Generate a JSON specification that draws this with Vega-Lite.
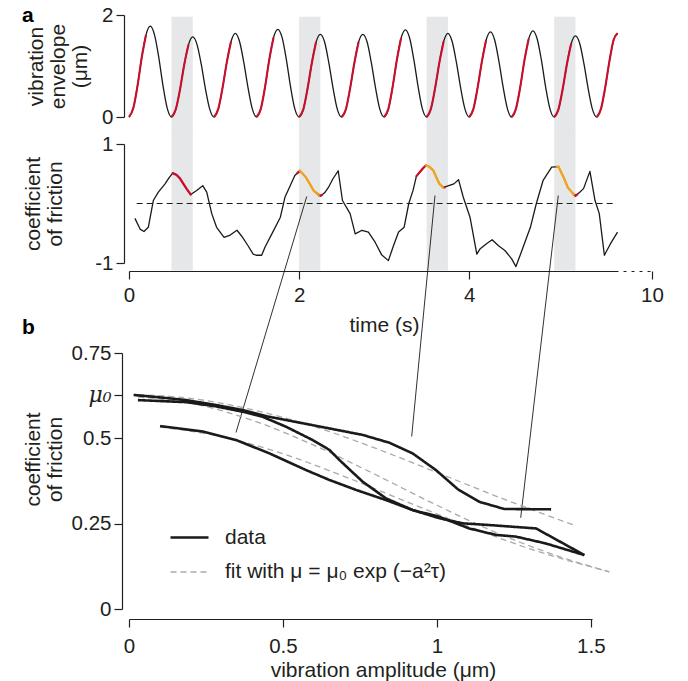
{
  "$schema": "https://vega.github.io/schema/vega-lite/v6.json",
  "background": "white",
  "padding": {"left": 22, "top": 5, "right": 5, "bottom": 5},
  "bounds": "flush",
  "spacing": 27,
  "resolve": {
    "scale": {"color": "independent", "strokeDash": "independent", "strokeWidth": "independent"},
    "legend": {"color": "independent", "strokeDash": "independent", "strokeWidth": "independent"}
  },
  "config": {
    "view": {"stroke": null},
    "font": "Liberation Sans",
    "axis": {
      "labelFont": "Liberation Sans", "labelFontSize": 20.5, "labelColor": "#231f20",
      "titleFont": "Liberation Sans", "titleFontSize": 21, "titleFontWeight": "normal", "titleColor": "#231f20",
      "titleLineHeight": 22, "labelFlush": false,
      "domainColor": "#231f20", "tickColor": "#231f20", "tickSize": 8, "domainWidth": 1.2, "tickWidth": 1.2,
      "grid": false, "labelPadding": 3
    },
    "title": {"font": "Liberation Sans", "fontSize": 21, "fontWeight": "bold", "color": "#000000", "anchor": "start", "frame": "group", "dx": -107, "offset": 0}
  },
  "datasets": {
    "bands": [{"t1": 0.5, "t2": 0.75}, {"t1": 2.0, "t2": 2.25}, {"t1": 3.5, "t2": 3.75}, {"t1": 5.0, "t2": 5.25}],
    "env": [
      {"t":0,"v":0,"c":0,"r":1},{"t":0.05,"v":0.17,"c":0,"r":1},{"t":0.1,"v":0.61,"c":0,"r":1},{"t":0.15,"v":1.17,"c":0,"r":1},{"t":0.2,"v":1.61,"c":0,"r":1},{"t":0.25,"v":1.78,"c":0,"r":0},{"t":0.3,"v":1.61,"c":0,"r":0},{"t":0.35,"v":1.17,"c":0,"r":0},{"t":0.4,"v":0.61,"c":0,"r":0},{"t":0.45,"v":0.17,"c":0,"r":0},
      {"t":0.5,"v":0,"c":1,"r":1},{"t":0.55,"v":0.15,"c":1,"r":1},{"t":0.6,"v":0.54,"c":1,"r":1},{"t":0.65,"v":1.03,"c":1,"r":1},{"t":0.7,"v":1.42,"c":1,"r":1},{"t":0.75,"v":1.57,"c":1,"r":0},{"t":0.8,"v":1.42,"c":1,"r":0},{"t":0.85,"v":1.03,"c":1,"r":0},{"t":0.9,"v":0.54,"c":1,"r":0},{"t":0.95,"v":0.15,"c":1,"r":0},
      {"t":1.0,"v":0,"c":2,"r":1},{"t":1.05,"v":0.16,"c":2,"r":1},{"t":1.1,"v":0.57,"c":2,"r":1},{"t":1.15,"v":1.07,"c":2,"r":1},{"t":1.2,"v":1.48,"c":2,"r":1},{"t":1.25,"v":1.64,"c":2,"r":0},{"t":1.3,"v":1.48,"c":2,"r":0},{"t":1.35,"v":1.07,"c":2,"r":0},{"t":1.4,"v":0.57,"c":2,"r":0},{"t":1.45,"v":0.16,"c":2,"r":0},
      {"t":1.5,"v":0,"c":3,"r":1},{"t":1.55,"v":0.16,"c":3,"r":1},{"t":1.6,"v":0.59,"c":3,"r":1},{"t":1.65,"v":1.13,"c":3,"r":1},{"t":1.7,"v":1.56,"c":3,"r":1},{"t":1.75,"v":1.72,"c":3,"r":0},{"t":1.8,"v":1.56,"c":3,"r":0},{"t":1.85,"v":1.13,"c":3,"r":0},{"t":1.9,"v":0.59,"c":3,"r":0},{"t":1.95,"v":0.16,"c":3,"r":0},
      {"t":2.0,"v":0,"c":4,"r":1},{"t":2.05,"v":0.15,"c":4,"r":1},{"t":2.1,"v":0.56,"c":4,"r":1},{"t":2.15,"v":1.06,"c":4,"r":1},{"t":2.2,"v":1.47,"c":4,"r":1},{"t":2.25,"v":1.62,"c":4,"r":0},{"t":2.3,"v":1.47,"c":4,"r":0},{"t":2.35,"v":1.06,"c":4,"r":0},{"t":2.4,"v":0.56,"c":4,"r":0},{"t":2.45,"v":0.15,"c":4,"r":0},
      {"t":2.5,"v":0,"c":5,"r":1},{"t":2.55,"v":0.15,"c":5,"r":1},{"t":2.6,"v":0.56,"c":5,"r":1},{"t":2.65,"v":1.06,"c":5,"r":1},{"t":2.7,"v":1.47,"c":5,"r":1},{"t":2.75,"v":1.62,"c":5,"r":0},{"t":2.8,"v":1.47,"c":5,"r":0},{"t":2.85,"v":1.06,"c":5,"r":0},{"t":2.9,"v":0.56,"c":5,"r":0},{"t":2.95,"v":0.15,"c":5,"r":0},
      {"t":3.0,"v":0,"c":6,"r":1},{"t":3.05,"v":0.16,"c":6,"r":1},{"t":3.1,"v":0.59,"c":6,"r":1},{"t":3.15,"v":1.12,"c":6,"r":1},{"t":3.2,"v":1.55,"c":6,"r":1},{"t":3.25,"v":1.71,"c":6,"r":0},{"t":3.3,"v":1.55,"c":6,"r":0},{"t":3.35,"v":1.12,"c":6,"r":0},{"t":3.4,"v":0.59,"c":6,"r":0},{"t":3.45,"v":0.16,"c":6,"r":0},
      {"t":3.5,"v":0,"c":7,"r":1},{"t":3.55,"v":0.16,"c":7,"r":1},{"t":3.6,"v":0.57,"c":7,"r":1},{"t":3.65,"v":1.07,"c":7,"r":1},{"t":3.7,"v":1.48,"c":7,"r":1},{"t":3.75,"v":1.64,"c":7,"r":0},{"t":3.8,"v":1.48,"c":7,"r":0},{"t":3.85,"v":1.07,"c":7,"r":0},{"t":3.9,"v":0.57,"c":7,"r":0},{"t":3.95,"v":0.16,"c":7,"r":0},
      {"t":4.0,"v":0,"c":8,"r":1},{"t":4.05,"v":0.16,"c":8,"r":1},{"t":4.1,"v":0.58,"c":8,"r":1},{"t":4.15,"v":1.09,"c":8,"r":1},{"t":4.2,"v":1.51,"c":8,"r":1},{"t":4.25,"v":1.67,"c":8,"r":0},{"t":4.3,"v":1.51,"c":8,"r":0},{"t":4.35,"v":1.09,"c":8,"r":0},{"t":4.4,"v":0.58,"c":8,"r":0},{"t":4.45,"v":0.16,"c":8,"r":0},
      {"t":4.5,"v":0,"c":9,"r":1},{"t":4.55,"v":0.16,"c":9,"r":1},{"t":4.6,"v":0.58,"c":9,"r":1},{"t":4.65,"v":1.11,"c":9,"r":1},{"t":4.7,"v":1.53,"c":9,"r":1},{"t":4.75,"v":1.69,"c":9,"r":0},{"t":4.8,"v":1.53,"c":9,"r":0},{"t":4.85,"v":1.11,"c":9,"r":0},{"t":4.9,"v":0.58,"c":9,"r":0},{"t":4.95,"v":0.16,"c":9,"r":0},
      {"t":5.0,"v":0,"c":10,"r":1},{"t":5.05,"v":0.15,"c":10,"r":1},{"t":5.1,"v":0.55,"c":10,"r":1},{"t":5.15,"v":1.04,"c":10,"r":1},{"t":5.2,"v":1.44,"c":10,"r":1},{"t":5.25,"v":1.59,"c":10,"r":0},{"t":5.3,"v":1.44,"c":10,"r":0},{"t":5.35,"v":1.04,"c":10,"r":0},{"t":5.4,"v":0.55,"c":10,"r":0},{"t":5.45,"v":0.15,"c":10,"r":0},
      {"t":5.5,"v":0,"c":11,"r":1},{"t":5.55,"v":0.16,"c":11,"r":1},{"t":5.6,"v":0.58,"c":11,"r":1},{"t":5.65,"v":1.10,"c":11,"r":1},{"t":5.7,"v":1.52,"c":11,"r":1},{"t":5.745,"v":1.64,"c":11,"r":1}
    ],
    "cof": [
      {"t":0.07,"v":-0.25},{"t":0.13,"v":-0.43},{"t":0.176,"v":-0.47},{"t":0.227,"v":-0.40},{"t":0.286,"v":0.05},{"t":0.345,"v":0.19},{"t":0.424,"v":0.33},{"t":0.47,"v":0.43},{"t":0.514,"v":0.51},{"t":0.56,"v":0.48},{"t":0.6,"v":0.42},{"t":0.64,"v":0.33},{"t":0.68,"v":0.24},{"t":0.726,"v":0.15},{"t":0.796,"v":0.22},{"t":0.867,"v":0.30},{"t":0.914,"v":0.19},{"t":0.973,"v":-0.17},{"t":1.03,"v":-0.40},{"t":1.118,"v":-0.57},{"t":1.19,"v":-0.53},{"t":1.27,"v":-0.45},{"t":1.326,"v":-0.55},{"t":1.40,"v":-0.71},{"t":1.46,"v":-0.85},{"t":1.50,"v":-0.87},{"t":1.56,"v":-0.87},{"t":1.60,"v":-0.73},{"t":1.68,"v":-0.51},{"t":1.78,"v":-0.23},{"t":1.835,"v":0.11},{"t":1.886,"v":0.27},{"t":1.95,"v":0.47},{"t":2.01,"v":0.55},{"t":2.08,"v":0.44},{"t":2.13,"v":0.32},{"t":2.17,"v":0.22},{"t":2.255,"v":0.13},{"t":2.30,"v":0.18},{"t":2.345,"v":0.27},{"t":2.40,"v":0.42},{"t":2.46,"v":0.55},{"t":2.51,"v":0.05},{"t":2.6,"v":-0.17},{"t":2.66,"v":-0.51},{"t":2.74,"v":-0.45},{"t":2.815,"v":-0.48},{"t":2.894,"v":-0.65},{"t":2.97,"v":-0.86},{"t":3.05,"v":-0.96},{"t":3.11,"v":-0.71},{"t":3.17,"v":-0.48},{"t":3.235,"v":-0.40},{"t":3.29,"v":0.0},{"t":3.34,"v":0.22},{"t":3.38,"v":0.46},{"t":3.45,"v":0.58},{"t":3.49,"v":0.64},{"t":3.53,"v":0.62},{"t":3.58,"v":0.55},{"t":3.62,"v":0.42},{"t":3.65,"v":0.33},{"t":3.70,"v":0.27},{"t":3.76,"v":0.30},{"t":3.82,"v":0.33},{"t":3.875,"v":0.40},{"t":3.93,"v":0.11},{"t":4.01,"v":-0.23},{"t":4.09,"v":-0.85},{"t":4.13,"v":-0.76},{"t":4.2,"v":-0.68},{"t":4.27,"v":-0.61},{"t":4.345,"v":-0.71},{"t":4.42,"v":-0.79},{"t":4.50,"v":-0.93},{"t":4.55,"v":-1.06},{"t":4.62,"v":-0.79},{"t":4.72,"v":-0.40},{"t":4.79,"v":0.0},{"t":4.87,"v":0.39},{"t":4.97,"v":0.61},{"t":5.05,"v":0.62},{"t":5.11,"v":0.44},{"t":5.16,"v":0.27},{"t":5.2,"v":0.20},{"t":5.25,"v":0.13},{"t":5.30,"v":0.19},{"t":5.345,"v":0.25},{"t":5.42,"v":0.54},{"t":5.48,"v":0.05},{"t":5.53,"v":-0.17},{"t":5.59,"v":-0.87},{"t":5.66,"v":-0.68},{"t":5.745,"v":-0.48}
    ],
    "hl": [
      {"s":"1r","k":"red","t":0.514,"v":0.51},{"s":"1r","k":"red","t":0.56,"v":0.48},{"s":"1r","k":"red","t":0.6,"v":0.42},{"s":"1r","k":"red","t":0.64,"v":0.33},{"s":"1r","k":"red","t":0.68,"v":0.24},{"s":"1r","k":"red","t":0.726,"v":0.15},
      {"s":"2a","k":"red","t":1.98,"v":0.51},{"s":"2a","k":"red","t":2.01,"v":0.55},
      {"s":"2o","k":"orange","t":2.01,"v":0.55},{"s":"2o","k":"orange","t":2.08,"v":0.44},{"s":"2o","k":"orange","t":2.13,"v":0.32},{"s":"2o","k":"orange","t":2.17,"v":0.22},{"s":"2o","k":"orange","t":2.23,"v":0.14},
      {"s":"2b","k":"red","t":2.23,"v":0.14},{"s":"2b","k":"red","t":2.255,"v":0.13},{"s":"2b","k":"red","t":2.27,"v":0.145},
      {"s":"3a","k":"red","t":3.38,"v":0.46},{"s":"3a","k":"red","t":3.45,"v":0.58},{"s":"3a","k":"red","t":3.49,"v":0.64},
      {"s":"3o","k":"orange","t":3.49,"v":0.64},{"s":"3o","k":"orange","t":3.53,"v":0.62},{"s":"3o","k":"orange","t":3.58,"v":0.55},{"s":"3o","k":"orange","t":3.62,"v":0.42},{"s":"3o","k":"orange","t":3.65,"v":0.33},{"s":"3o","k":"orange","t":3.69,"v":0.275},
      {"s":"3b","k":"red","t":3.69,"v":0.275},{"s":"3b","k":"red","t":3.71,"v":0.27},
      {"s":"4o","k":"orange","t":5.03,"v":0.62},{"s":"4o","k":"orange","t":5.05,"v":0.62},{"s":"4o","k":"orange","t":5.11,"v":0.44},{"s":"4o","k":"orange","t":5.16,"v":0.27},{"s":"4o","k":"orange","t":5.2,"v":0.20},{"s":"4o","k":"orange","t":5.23,"v":0.15},
      {"s":"4b","k":"red","t":5.23,"v":0.15},{"s":"4b","k":"red","t":5.25,"v":0.13},{"s":"4b","k":"red","t":5.27,"v":0.15}
    ],
    "links": [
      {"id":"L1","t":2.09,"v":0.118},{"id":"L1","t":1.258,"v":-3.849},
      {"id":"L2","t":3.598,"v":0.134},{"id":"L2","t":3.324,"v":-3.916},
      {"id":"L3","t":5.048,"v":0.134},{"id":"L3","t":4.606,"v":-5.282}
    ],
    "amp": [
      {"kind":"fit","id":"F1","a":0.03,"mu":0.628},{"kind":"fit","id":"F1","a":0.2,"mu":0.617},{"kind":"fit","id":"F1","a":0.4,"mu":0.584},{"kind":"fit","id":"F1","a":0.6,"mu":0.535},{"kind":"fit","id":"F1","a":0.8,"mu":0.471},{"kind":"fit","id":"F1","a":1.0,"mu":0.400},{"kind":"fit","id":"F1","a":1.2,"mu":0.328},{"kind":"fit","id":"F1","a":1.45,"mu":0.244},
      {"kind":"fit","id":"F2","a":0.03,"mu":0.621},{"kind":"fit","id":"F2","a":0.2,"mu":0.603},{"kind":"fit","id":"F2","a":0.4,"mu":0.553},{"kind":"fit","id":"F2","a":0.6,"mu":0.480},{"kind":"fit","id":"F2","a":0.8,"mu":0.394},{"kind":"fit","id":"F2","a":1.0,"mu":0.304},{"kind":"fit","id":"F2","a":1.2,"mu":0.221},{"kind":"fit","id":"F2","a":1.4,"mu":0.153},{"kind":"fit","id":"F2","a":1.56,"mu":0.109},
      {"kind":"fit","id":"F3","a":0.1,"mu":0.533},{"kind":"fit","id":"F3","a":0.3,"mu":0.505},{"kind":"fit","id":"F3","a":0.5,"mu":0.455},{"kind":"fit","id":"F3","a":0.7,"mu":0.388},{"kind":"fit","id":"F3","a":0.9,"mu":0.315},{"kind":"fit","id":"F3","a":1.1,"mu":0.243},{"kind":"fit","id":"F3","a":1.3,"mu":0.177},{"kind":"fit","id":"F3","a":1.56,"mu":0.109},
      {"kind":"data","id":"A","a":0.015,"mu":0.627},{"kind":"data","id":"A","a":0.10,"mu":0.620},{"kind":"data","id":"A","a":0.186,"mu":0.612},{"kind":"data","id":"A","a":0.28,"mu":0.598},{"kind":"data","id":"A","a":0.369,"mu":0.583},{"kind":"data","id":"A","a":0.456,"mu":0.563},{"kind":"data","id":"A","a":0.554,"mu":0.546},{"kind":"data","id":"A","a":0.651,"mu":0.529},{"kind":"data","id":"A","a":0.759,"mu":0.510},{"kind":"data","id":"A","a":0.846,"mu":0.487},{"kind":"data","id":"A","a":0.921,"mu":0.456},{"kind":"data","id":"A","a":0.997,"mu":0.407},{"kind":"data","id":"A","a":1.068,"mu":0.351},{"kind":"data","id":"A","a":1.138,"mu":0.314},{"kind":"data","id":"A","a":1.219,"mu":0.293},{"kind":"data","id":"A","a":1.371,"mu":0.292},
      {"kind":"data","id":"B","a":0.029,"mu":0.612},{"kind":"data","id":"B","a":0.186,"mu":0.606},{"kind":"data","id":"B","a":0.28,"mu":0.594},{"kind":"data","id":"B","a":0.369,"mu":0.578},{"kind":"data","id":"B","a":0.434,"mu":0.563},{"kind":"data","id":"B","a":0.510,"mu":0.534},{"kind":"data","id":"B","a":0.592,"mu":0.497},{"kind":"data","id":"B","a":0.651,"mu":0.466},{"kind":"data","id":"B","a":0.683,"mu":0.437},{"kind":"data","id":"B","a":0.716,"mu":0.409},{"kind":"data","id":"B","a":0.759,"mu":0.373},{"kind":"data","id":"B","a":0.835,"mu":0.324},{"kind":"data","id":"B","a":0.921,"mu":0.290},{"kind":"data","id":"B","a":1.008,"mu":0.266},{"kind":"data","id":"B","a":1.084,"mu":0.251},{"kind":"data","id":"B","a":1.170,"mu":0.246},{"kind":"data","id":"B","a":1.322,"mu":0.236},{"kind":"data","id":"B","a":1.479,"mu":0.158},
      {"kind":"data","id":"C","a":0.101,"mu":0.536},{"kind":"data","id":"C","a":0.240,"mu":0.520},{"kind":"data","id":"C","a":0.348,"mu":0.495},{"kind":"data","id":"C","a":0.456,"mu":0.456},{"kind":"data","id":"C","a":0.575,"mu":0.407},{"kind":"data","id":"C","a":0.651,"mu":0.378},{"kind":"data","id":"C","a":0.737,"mu":0.349},{"kind":"data","id":"C","a":0.835,"mu":0.319},{"kind":"data","id":"C","a":0.921,"mu":0.290},{"kind":"data","id":"C","a":1.008,"mu":0.270},{"kind":"data","id":"C","a":1.105,"mu":0.236},{"kind":"data","id":"C","a":1.192,"mu":0.217},{"kind":"data","id":"C","a":1.257,"mu":0.212},{"kind":"data","id":"C","a":1.354,"mu":0.192},{"kind":"data","id":"C","a":1.479,"mu":0.158}
    ]
  },
  "vconcat": [
    {
      "width": 523, "height": 102,
      "title": {"text": "a", "dy": 25},
      "layer": [
        {
          "data": {"name": "bands"},
          "mark": {"type": "rect", "color": "#e6e7e8"},
          "encoding": {
            "x": {"field": "t1", "type": "quantitative", "scale": {"domain": [0, 6.15]}, "axis": null},
            "x2": {"field": "t2"},
            "y": {"datum": 1.967, "type": "quantitative", "scale": {"domain": [0, 2]}},
            "y2": {"datum": -0.27}
          }
        },
        {
          "data": {"name": "env"},
          "mark": {"type": "line", "color": "#1a1a1a", "strokeWidth": 1.3, "interpolate": "monotone"},
          "encoding": {
            "x": {"field": "t", "type": "quantitative", "scale": {"domain": [0, 6.15]}, "axis": null},
            "y": {"field": "v", "type": "quantitative", "scale": {"domain": [0, 2]},
                  "axis": {"values": [0, 1, 2], "format": "d", "offset": 5, "title": ["vibration", "envelope", "(μm)"], "titlePadding": 11}}
          }
        },
        {
          "data": {"name": "env"},
          "transform": [{"filter": "datum.r == 1"}],
          "mark": {"type": "line", "color": "#c8102e", "strokeWidth": 2.1, "interpolate": "monotone"},
          "encoding": {
            "x": {"field": "t", "type": "quantitative", "scale": {"domain": [0, 6.15]}, "axis": null},
            "y": {"field": "v", "type": "quantitative", "scale": {"domain": [0, 2]}, "title": ["vibration", "envelope", "(μm)"]},
            "detail": {"field": "c", "type": "nominal"}
          }
        }
      ]
    },
    {
      "width": 523, "height": 119,
      "layer": [
        {
          "data": {"name": "bands"},
          "mark": {"type": "rect", "color": "#e6e7e8"},
          "encoding": {
            "x": {"field": "t1", "type": "quantitative", "scale": {"domain": [0, 6.15]}, "title": "time (s)"},
            "x2": {"field": "t2"},
            "y": {"datum": 1.25, "type": "quantitative", "scale": {"domain": [-1, 1]}},
            "y2": {"datum": -1.126}
          }
        },
        {
          "data": {"values": [{"t": 0.09, "t2": 5.72}]},
          "mark": {"type": "rule", "color": "#1a1a1a", "strokeWidth": 1, "strokeDash": [6, 4]},
          "encoding": {
            "x": {"field": "t", "type": "quantitative", "scale": {"domain": [0, 6.15]}, "title": "time (s)"},
            "x2": {"field": "t2"},
            "y": {"datum": 0, "type": "quantitative", "scale": {"domain": [-1, 1]}}
          }
        },
        {
          "data": {"name": "links"},
          "mark": {"type": "line", "color": "#1a1a1a", "strokeWidth": 0.9, "clip": false},
          "encoding": {
            "x": {"field": "t", "type": "quantitative", "scale": {"domain": [0, 6.15]}, "title": "time (s)"},
            "y": {"field": "v", "type": "quantitative", "scale": {"domain": [-1, 1]}, "title": ["coefficient", "of friction"]},
            "detail": {"field": "id", "type": "nominal"}
          }
        },
        {
          "data": {"name": "cof"},
          "mark": {"type": "line", "color": "#1a1a1a", "strokeWidth": 1.3, "strokeJoin": "round"},
          "encoding": {
            "x": {"field": "t", "type": "quantitative", "scale": {"domain": [0, 6.15]},
                  "axis": {"values": [0, 2, 4, 6.15], "format": "d", "labelExpr": "datum.value > 5 ? '10' : datum.label", "offset": 8,
                           "labelPadding": 6,
                           "domainDash": [489, 5, 3, 5, 3, 5, 3, 5, 3, 5, 3, 500], "title": "time (s)", "titlePadding": 9, "titleX": 255}},
            "y": {"field": "v", "type": "quantitative", "scale": {"domain": [-1, 1]},
                  "axis": {"values": [-1, 0, 1], "format": "d", "offset": 5, "labelExpr": "replace(datum.label, '−', '-')",
                           "title": ["coefficient", "of friction"], "titlePadding": 29}}
          }
        },
        {
          "data": {"name": "hl"},
          "transform": [{"filter": "datum.k == 'red'"}],
          "mark": {"type": "line", "strokeWidth": 2.3, "strokeCap": "round", "color": "#c8102e"},
          "encoding": {
            "x": {"field": "t", "type": "quantitative", "scale": {"domain": [0, 6.15]}, "title": "time (s)"},
            "y": {"field": "v", "type": "quantitative", "scale": {"domain": [-1, 1]}, "title": ["coefficient", "of friction"]},
            "detail": {"field": "s", "type": "nominal"}
          }
        },
        {
          "data": {"name": "hl"},
          "transform": [{"filter": "datum.k == 'orange'"}],
          "mark": {"type": "line", "strokeWidth": 2.3, "strokeCap": "round", "color": "#f2a31c"},
          "encoding": {
            "x": {"field": "t", "type": "quantitative", "scale": {"domain": [0, 6.15]}, "title": "time (s)"},
            "y": {"field": "v", "type": "quantitative", "scale": {"domain": [-1, 1]}, "title": ["coefficient", "of friction"]},
            "detail": {"field": "s", "type": "nominal"}
          }
        }
      ]
    },
    {
      "width": 1, "height": 36,
      "data": {"values": [{"z": 1}]},
      "mark": {"type": "point", "opacity": 0},
      "encoding": {}
    },
    {
      "width": 508, "height": 256,
      "title": {"text": "b", "dy": -1},
      "data": {"name": "amp"},
      "encoding": {
        "x": {"field": "a", "type": "quantitative", "scale": {"domain": [0, 1.65]},
              "axis": {"values": [0, 0.5, 1, 1.5], "format": ".2~g", "offset": 10, "domainDash": [463, 1000],
                       "labelPadding": 9, "title": "vibration amplitude (μm)", "titlePadding": 3}},
        "y": {"field": "mu", "type": "quantitative", "scale": {"domain": [0, 0.75]},
              "axis": {"values": [0, 0.25, 0.5, 0.627, 0.75], "format": ".2~g", "offset": 7,
                       "labelExpr": "datum.value == 0.627 ? 'μ₀' : datum.label",
                       "labelFont": {"condition": {"test": "datum.value == 0.627", "value": "DejaVu Serif"}, "value": "Liberation Sans"},
                       "labelFontStyle": {"condition": {"test": "datum.value == 0.627", "value": "italic"}, "value": "normal"},
                       "labelFontSize": {"condition": {"test": "datum.value == 0.627", "value": 22}, "value": 20.5},
                       "title": ["coefficient", "of friction"], "titlePadding": 6, "titleY": 106}},
        "color": {"field": "kind", "type": "nominal", "scale": {"domain": ["data", "fit"], "range": ["#1a1a1a", "#aaaaaa"]},
                  "legend": {"orient": "none", "legendX": 40, "legendY": 164, "title": null, "direction": "vertical",
                             "symbolType": "stroke", "symbolSize": 1444, "labelFontSize": 21, "labelFont": "Liberation Sans",
                             "labelColor": "#231f20", "labelOffset": 15, "rowPadding": 4, "labelLimit": 0,
                             "labelExpr": "datum.label == 'fit' ? 'fit with μ = μ₀ exp (−a²τ)' : datum.label"}},
        "strokeDash": {"field": "kind", "type": "nominal", "scale": {"domain": ["data", "fit"], "range": [[1, 0], [6, 4]]}},
        "strokeWidth": {"field": "kind", "type": "nominal", "scale": {"domain": ["data", "fit"], "range": [2.6, 1.3]}},
        "detail": {"field": "id", "type": "nominal"}
      },
      "layer": [
        {"transform": [{"filter": "datum.kind == 'fit'"}], "mark": {"type": "line", "interpolate": "monotone"}},
        {"transform": [{"filter": "datum.kind == 'data'"}], "mark": {"type": "line", "strokeJoin": "round"}}
      ]
    }
  ]
}
